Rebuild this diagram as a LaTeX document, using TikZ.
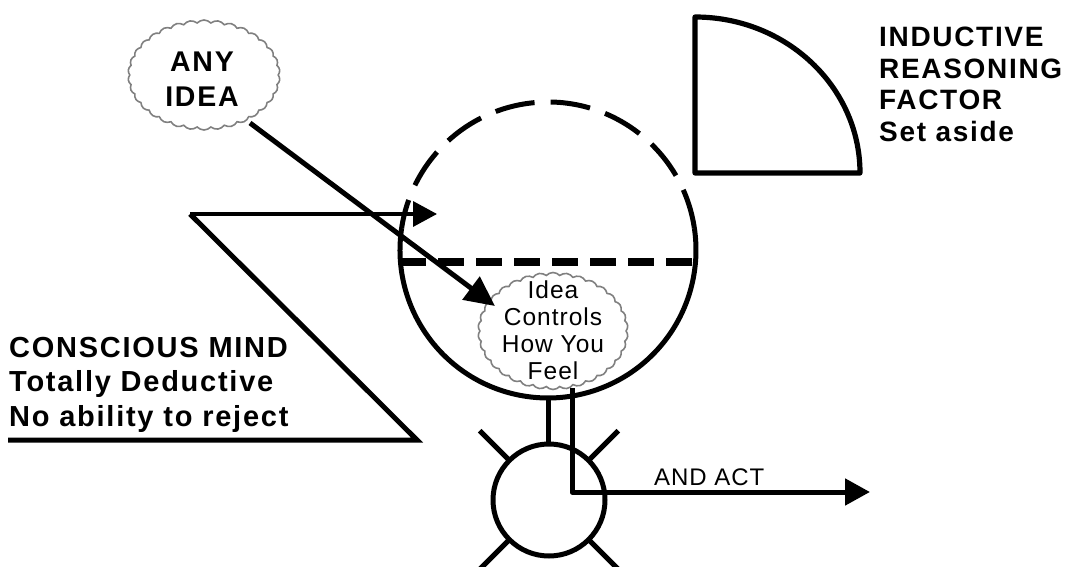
\documentclass[tikz,border=0pt]{standalone}
\usepackage{fontspec}
\setmainfont{Liberation Sans}
\newfontfamily\bsp[LetterSpace=6,BoldFont={Liberation Sans Bold}]{Liberation Sans}
\newfontfamily\rsp[LetterSpace=4]{Liberation Sans}
\usetikzlibrary{arrows.meta,shapes.symbols}
\tikzset{
  heavy/.style={line width=5pt},
  cloudy/.style={cloud, cloud puffs=34, cloud puff arc=95, cloud ignores aspect,
    draw=black!50, line width=1.6pt, fill=white, inner sep=0pt},
  bigtext/.style={font=\bsp\bfseries\fontsize{29}{34.5}\selectfont, inner sep=0pt, align=left},
  cloudtext/.style={font=\rsp\fontsize{24.5}{27}\selectfont, inner sep=0pt, align=center},
  bighead/.style={-{Triangle[length=30pt,width=28pt]}},
  head/.style={-{Triangle[length=25pt,width=26pt]}},
}
\begin{document}
\begin{tikzpicture}[x=1pt,y=1pt]
\useasboundingbox (0,0) rectangle (1068,-567);
% clouds
\node[cloudy, minimum width=152pt, minimum height=110pt] (any) at (204,-75) {};
\node[bigtext, font=\bsp\bfseries\fontsize{28.5}{35}\selectfont, align=center, anchor=north] (anytext) at (202,-52) {ANY\\IDEA};
\node[cloudy, minimum width=150pt, minimum height=117pt] (idea) at (553,-331) {};
\node[cloudtext, anchor=north] (ideatext) at (553,-281) {Idea\\Controls\\How You\\Feel};
% big circle
\coordinate (bc) at (548,-250);
\draw[heavy] (bc) ++(171.5:148) arc[start angle=171.5, end angle=368.5, radius=148];
\draw[heavy, dash pattern=on 40pt off 16pt] (bc) ++(8.5:148) arc[start angle=8.5, end angle=171.5, radius=148];
\coordinate (dl) at (400,-262);
\coordinate (dr) at (694,-262);
\draw[line width=7.5pt, dash pattern=on 26pt off 12pt] (dl) -- (dr);
% conscious mind shape
\coordinate (p1) at (190,-214);
\coordinate (p2) at (437,-214);
\coordinate (p3) at (417,-440);
\coordinate (p4) at (8,-440);
\draw[line width=3.5pt, -{Triangle[length=24pt,width=25pt]}] (p1) -- (p2);
\draw[heavy, line join=miter] (p1) -- (p3) -- (p4);
\node[bigtext, anchor=north west] (conscious) at (9,-337) {CONSCIOUS MIND\\Totally Deductive\\No ability to reject};
% any idea arrow
\coordinate (a1) at (250,-123);
\coordinate (a2) at (495,-306);
\draw[heavy, bighead] (a1) -- (a2);
% quarter circle
\coordinate (q1) at (695,-17);
\coordinate (q2) at (695,-173);
\coordinate (q3) at (860,-173);
\draw[line width=5.2pt, line join=round] (q1) -- (q2) -- (q3) arc[start angle=0, end angle=90, x radius=165, y radius=156] -- cycle;
\node[bigtext, font=\bsp\bfseries\fontsize{28}{31.6}\selectfont, anchor=north west] (induct) at (879,-27) {INDUCTIVE\\REASONING\\FACTOR\\Set aside};
% small circle with spokes
\coordinate (sc) at (549,-500);
\node[draw, heavy, circle, minimum size=112pt, inner sep=0pt] (small) at (sc) {};
\foreach \a in {45,135,225,315}{
  \draw[heavy] (sc) ++(\a:58) -- ++(\a:40);
}
\coordinate (v1a) at (548,-397);
\coordinate (v1b) at (548,-444);
\draw[heavy] (v1a) -- (v1b);
\coordinate (v2a) at (572,-388);
\coordinate (v2b) at (572,-492);
\coordinate (act) at (870,-492);
\draw[heavy, head, line join=round] (v2a) -- (v2b) -- (act);
\node[font=\rsp\fontsize{24}{27}\selectfont, inner sep=0pt, anchor=base west] (andact) at (654,-485) {AND ACT};
\end{tikzpicture}
\end{document}
